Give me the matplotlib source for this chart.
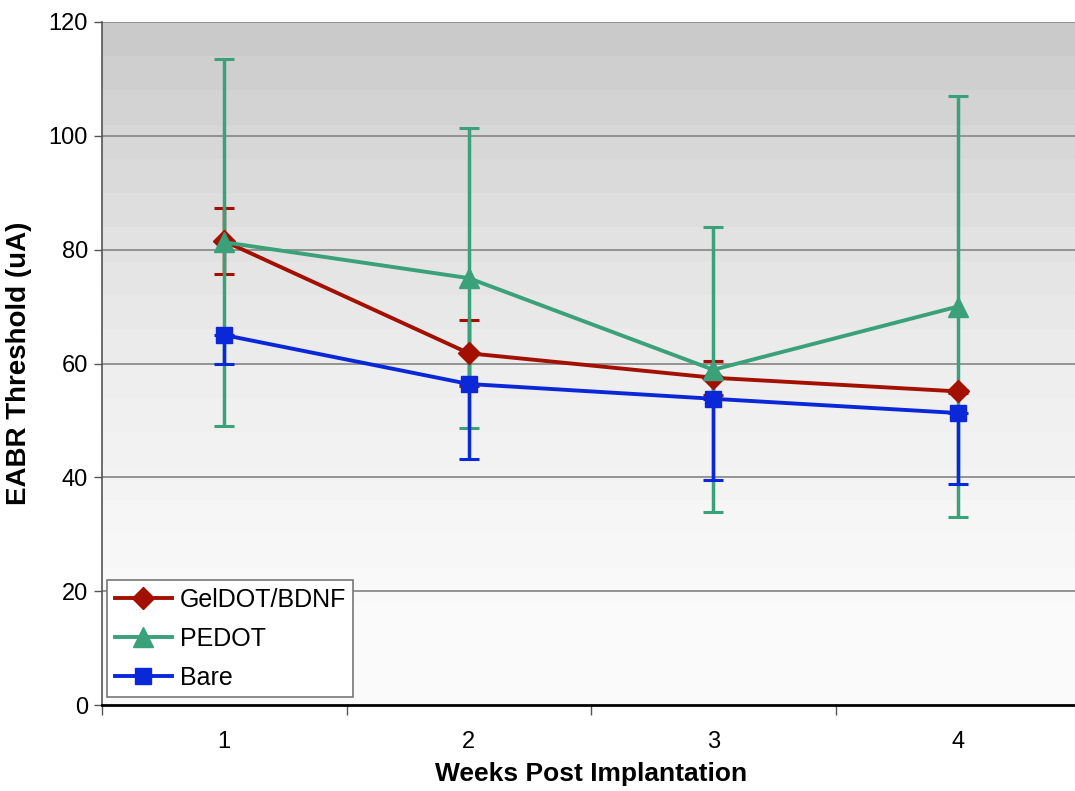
"""EABR threshold vs weeks post implantation"""

import matplotlib
matplotlib.use('Agg')
import matplotlib.pyplot as plt
import numpy as np

plt.rcParams['font.family'] = ['Liberation Sans', 'DejaVu Sans']

weeks = [1, 2, 3, 4]
week_labels = ['1', '2', '3', '4']

# GelDOT/BDNF
gel_mean = [81.5, 61.8, 57.5, 55.1]
gel_err = [5.8, 5.8, 3.0, 0.3]
# PEDOT
pedot_mean = [81.3, 75.0, 58.9, 70.0]
pedot_err = [32.2, 26.4, 25.0, 37.0]
# Bare (only lower error bars shown)
bare_mean = [65.0, 56.4, 53.8, 51.3]
bare_err_low = [5.0, 13.2, 14.3, 12.5]

# background bands, grey levels from bottom (0) to top (120), 6 units each
band_levels = [0.98, 0.98, 0.977, 0.975, 0.968, 0.962, 0.955, 0.948, 0.94, 0.93,
               0.92, 0.91, 0.895, 0.885, 0.87, 0.855, 0.84, 0.825, 0.81, 0.79]

fig = plt.figure(figsize=(10.75, 7.91), dpi=100)
ax = fig.add_axes([102 / 1075, 1 - 705 / 791, (1080 - 102) / 1075, (705 - 22) / 791])

ax.set_xlim(0.5, 4.5)
ax.set_ylim(0, 120)

grad = np.array(band_levels).reshape(-1, 1)
ax.imshow(grad, cmap='gray', vmin=0, vmax=1, origin='lower', aspect='auto',
          extent=(0.5, 4.5, 0, 120), interpolation='nearest', zorder=0)

for y in range(20, 121, 20):
    ax.axhline(y, color='#8c8c8c', lw=1.3, zorder=1)

red = '#a31000'
green = '#3aa17a'
blue = '#0a28d8'

# error bars first, under all lines and markers
ax.errorbar(weeks, gel_mean, yerr=gel_err, fmt='none', ecolor=red, capsize=7,
            capthick=2.2, elinewidth=2.5, zorder=2.0)
ax.errorbar(weeks, pedot_mean, yerr=pedot_err, fmt='none', ecolor=green, capsize=7,
            capthick=2.2, elinewidth=2.5, zorder=2.1)
ax.errorbar(weeks, bare_mean, yerr=[bare_err_low, [0] * 4], fmt='none', ecolor=blue, capsize=7,
            capthick=2.2, elinewidth=2.5, zorder=2.2)

l_gel, = ax.plot(weeks, gel_mean, color=red, lw=2.8, marker='D', ms=11, zorder=3)
l_pedot, = ax.plot(weeks, pedot_mean, color=green, lw=2.8, marker='^', ms=14, zorder=4)
l_bare, = ax.plot(weeks, bare_mean, color=blue, lw=2.8, marker='s', ms=12, zorder=5)

for s in ['top', 'right']:
    ax.spines[s].set_visible(False)
ax.spines['left'].set_color('#555555')
ax.spines['left'].set_linewidth(1.2)
ax.spines['bottom'].set_color('black')
ax.spines['bottom'].set_linewidth(2)

ax.set_yticks(range(0, 121, 20))
ax.tick_params(axis='y', labelsize=17, length=6, width=1, color='#555555', pad=4)
ax.set_xticks(weeks)
ax.set_xticklabels(week_labels)
ax.set_xticks([0.5, 1.5, 2.5, 3.5, 4.5], minor=True)
ax.tick_params(axis='x', which='major', length=0, labelsize=17, pad=19)
ax.tick_params(axis='x', which='minor', length=7, width=1, color='#555555')

ax.set_xlabel('Weeks Post Implantation', fontsize=19, fontweight='bold', labelpad=6)
ax.set_ylabel('EABR Threshold (uA)', fontsize=20, fontweight='bold', labelpad=12)

leg = ax.legend([l_gel, l_pedot, l_bare], ['GelDOT/BDNF', 'PEDOT', 'Bare'],
                loc='lower left', bbox_to_anchor=(0.0, 0.004), fontsize=18,
                frameon=True, fancybox=False, edgecolor='#777777', framealpha=1,
                handlelength=2.3, handletextpad=0.3, borderpad=0.3, labelspacing=0.6,
                borderaxespad=0.2)
leg.get_frame().set_linewidth(1.2)

fig.savefig('out.png', dpi=100)
